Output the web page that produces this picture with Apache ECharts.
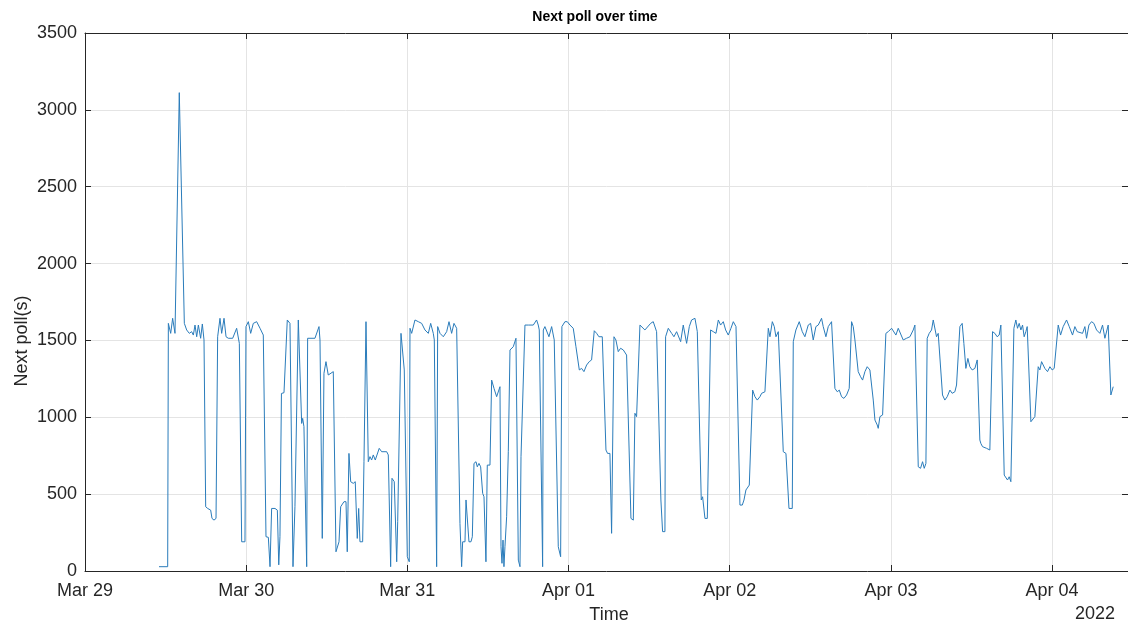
<!DOCTYPE html>
<html>
<head>
<meta charset="utf-8">
<title>Next poll over time</title>
<script src="https://cdn.jsdelivr.net/npm/echarts@6/dist/echarts.min.js"></script>
<style>
  html, body { margin: 0; padding: 0; background: #ffffff; }
  #chart { width: 1128px; height: 626px; }
</style>
</head>
<body>
<div id="chart"></div>
<script>
// Sample times, in hours counted from Mar 29 2022 00:00
const hours = [
  11.02, 12.31, 12.41, 12.76, 13.05, 13.40, 13.62, 14.04, 14.79, 15.14,
  15.53, 15.88, 16.13, 16.38, 16.63, 16.88, 17.22, 17.47, 17.72, 17.97,
  18.27, 18.51, 18.71, 18.91, 19.21, 19.51, 19.75, 20.10, 20.35, 20.70,
  21.00, 21.34, 21.99, 22.58, 22.98, 23.33, 23.82, 23.97, 24.32, 24.67,
  25.06, 25.56, 26.06, 26.55, 26.95, 27.30, 27.55, 27.79, 28.29, 28.64,
  28.85, 29.03, 29.25, 29.63, 30.12, 30.27, 30.52, 30.77, 30.97, 31.26,
  31.52, 31.76, 32.26, 32.41, 32.60, 33.01, 33.15, 34.24, 34.49, 34.84,
  34.99, 35.33, 35.58, 35.88, 36.22, 36.97, 37.37, 37.62, 37.82, 38.07,
  38.56, 38.86, 39.05, 39.30, 39.56, 39.94, 40.24, 40.54, 40.75, 40.94,
  41.34, 41.54, 41.84, 42.18, 42.43, 42.68, 42.92, 43.22, 43.81, 44.17,
  44.92, 45.16, 45.51, 45.71, 45.90, 46.05, 46.41, 46.56, 46.79, 47.05,
  47.54, 47.79, 47.99, 48.28, 48.39, 48.64, 49.13, 49.63, 50.13, 50.62,
  51.12, 51.47, 51.86, 52.01, 52.36, 52.51, 52.86, 53.35, 53.85, 54.20,
  54.59, 54.94, 55.34, 55.59, 55.83, 56.08, 56.23, 56.58, 56.73, 56.97,
  57.17, 57.47, 57.67, 57.92, 58.22, 58.41, 58.66, 58.91, 59.21, 59.41,
  59.70, 59.90, 60.30, 60.55, 60.90, 61.29, 61.54, 61.79, 61.94, 62.09,
  62.24, 62.38, 62.53, 62.78, 63.03, 63.28, 63.77, 64.17, 64.52, 64.77,
  64.92, 65.16, 65.51, 66.01, 66.25, 66.75, 67.24, 67.49, 67.64, 68.14,
  68.24, 68.48, 68.73, 69.08, 69.48, 69.87, 70.47, 70.82, 71.01, 71.46,
  71.81, 72.21, 72.70, 73.10, 73.60, 73.94, 74.29, 74.69, 75.08, 75.43,
  75.83, 76.18, 76.52, 77.02, 77.57, 77.81, 78.16, 78.41, 78.56, 78.76,
  79.05, 79.40, 79.75, 80.15, 80.64, 81.29, 81.64, 81.88, 82.13, 82.63,
  82.88, 83.37, 83.62, 84.22, 84.61, 85.11, 85.75, 86.00, 86.35, 86.45,
  86.85, 87.35, 87.69, 88.09, 88.69, 89.08, 89.58, 89.98, 90.32, 90.82,
  91.17, 91.76, 91.96, 92.31, 92.66, 92.95, 93.15, 93.55, 93.95, 94.30,
  94.64, 95.04, 95.39, 95.78, 96.18, 96.53, 96.93, 97.52, 97.87, 98.12,
  98.41, 98.66, 98.91, 99.41, 99.75, 100.10, 100.50, 100.75, 101.24, 101.74,
  101.99, 102.34, 102.63, 102.88, 103.23, 103.97, 104.37, 104.82, 105.06, 105.31,
  105.46, 105.85, 106.35, 106.80, 107.19, 107.69, 108.04, 108.43, 108.83, 109.18,
  109.67, 109.92, 110.32, 110.67, 111.16, 111.66, 112.01, 112.31, 112.65, 113.00,
  113.40, 113.79, 114.14, 114.39, 114.64, 115.13, 115.48, 115.78, 116.13, 116.47,
  116.87, 117.37, 117.62, 117.96, 118.11, 118.36, 118.76, 119.25, 119.60, 120.10,
  120.35, 120.74, 121.09, 121.83, 122.33, 122.83, 123.32, 123.57, 124.07, 124.41,
  124.71, 124.96, 125.21, 125.40, 125.70, 126.05, 126.30, 126.79, 127.04, 127.68,
  128.03, 128.38, 128.78, 129.12, 129.52, 129.77, 130.27, 130.61, 130.86, 131.16,
  131.46, 131.75, 132.10, 132.50, 132.85, 133.24, 133.39, 133.64, 133.89, 134.24,
  134.48, 134.73, 135.13, 135.48, 135.82, 136.12, 136.37, 136.87, 137.11, 137.36,
  137.61, 137.86, 138.31, 138.60, 138.85, 139.10, 139.35, 139.60, 139.84, 140.09,
  140.29, 140.84, 141.08, 141.43, 141.93, 142.18, 142.43, 142.67, 142.92, 143.32,
  143.67, 144.01, 144.31, 144.56, 144.91, 145.26, 145.65, 146.15, 146.55, 147.04,
  147.39, 147.74, 148.53, 148.88, 149.13, 149.48, 149.87, 150.22, 150.62, 151.11,
  151.51, 151.86, 152.35, 152.75, 153.10
];

// Next poll interval in seconds at each sample time
const nextPoll = [
  28, 28, 1611, 1546, 1644, 1546, 1540, 3112, 1611, 1568,
  1546, 1557, 1535, 1600, 1524, 1600, 1514, 1607, 1503, 418,
  407, 418, 396, 342, 331, 342, 1524, 1644, 1546, 1644,
  1524, 1514, 1514, 1579, 1481, 190, 190, 1590, 1622, 1546,
  1611, 1622, 1579, 1535, 223, 219, 28, 407, 407, 396,
  40, 223, 1155, 1160, 1633, 1633, 1611, 1600, 28, 418,
  418, 1633, 960, 993, 939, 28, 1514, 1514, 1503, 1590,
  1503, 212, 1286, 1362, 1275, 1297, 125, 125, 190, 418,
  451, 451, 125, 765, 581, 570, 581, 212, 407, 190,
  190, 711, 1622, 711, 744, 722, 755, 722, 798, 776,
  776, 755, 28, 603, 613, 581, 60, 321, 310, 1546,
  1308, 1318, 93, 60, 1579, 1546, 1633, 1622, 1611, 1568,
  1546, 1611, 1546, 1503, 28, 1590, 1546, 1524, 1557, 1622,
  1546, 1611, 1579, 1579, 310, 28, 190, 190, 462, 473,
  190, 190, 223, 700, 711, 678, 700, 678, 505, 483,
  60, 689, 689, 1242, 1188, 1134, 1145, 1199, 158, 50,
  201, 28, 158, 353, 776, 1438, 1459, 1514, 71, 28,
  744, 733, 1600, 1600, 1611, 1600, 1633, 1600, 1568, 28,
  1568, 1590, 1600, 1524, 1590, 1503, 158, 93, 1590, 1622,
  1622, 1600, 1579, 1459, 1308, 1318, 1297, 1340, 1362, 1373,
  1563, 1546, 1524, 1524, 787, 765, 765, 245, 245, 1524,
  1503, 1427, 1449, 1438, 1405, 342, 331, 1026, 1004, 1600,
  1611, 1568, 1557, 1611, 1622, 1557, 462, 256, 256, 1524,
  1579, 1546, 1524, 1557, 1492, 1600, 1481, 1590, 1633, 1644,
  1557, 462, 483, 342, 342, 331, 1568, 1557, 1546, 1633,
  1600, 1622, 1568, 1535, 1579, 1622, 1590, 429, 429, 462,
  527, 516, 559, 1177, 1134, 1112, 1134, 1156, 1166, 1579,
  1524, 1622, 1590, 1524, 1557, 776, 765, 407, 418, 407,
  1492, 1568, 1622, 1557, 1524, 1600, 1611, 1503, 1590, 1600,
  1644, 1590, 1524, 1590, 1622, 1188, 1166, 1177, 1134, 1123,
  1145, 1188, 1622, 1590, 1503, 1297, 1264, 1242, 1297, 1329,
  1308, 1112, 982, 950, 928, 1004, 1015, 1546, 1557, 1579,
  1590, 1535, 1579, 1503, 1514, 1524, 1568, 1600, 678, 668,
  711, 668, 700, 1514, 1546, 1568, 1633, 1524, 1546, 1145,
  1112, 1134, 1177, 1156, 1166, 1210, 1590, 1611, 1481, 1318,
  1383, 1329, 1308, 1318, 1373, 852, 830, 809, 820, 798,
  809, 787, 1557, 1546, 1524, 1535, 1600, 624, 613, 592,
  613, 581, 1579, 1633, 1579, 1611, 1568, 1600, 1524, 1557,
  1590, 971, 960, 1004, 1329, 1308, 1362, 1373, 1318, 1297,
  1329, 1308, 1318, 1329, 1600, 1535, 1590, 1633, 1590, 1535,
  1590, 1557, 1546, 1590, 1514, 1600, 1622, 1611, 1568, 1546,
  1600, 1514, 1600, 1145, 1199
];

// Day tick labels (one per 24 h)
const dayLabels = ['Mar 29', 'Mar 30', 'Mar 31', 'Apr 01', 'Apr 02', 'Apr 03', 'Apr 04'];
const yearLabel = '2022';

const TEXT = '#262626';
const FONT = 'Liberation Sans, Arial, Helvetica, sans-serif';
const X_MAX = 155.3;

const points = hours.map((h, i) => [h, nextPoll[i]]);

const chart = echarts.init(document.getElementById('chart'), null, { renderer: 'canvas' });

const dayFormatter = v => {
  const d = v / 24;
  return Math.abs(d - Math.round(d)) < 1e-6 && dayLabels[Math.round(d)] ? dayLabels[Math.round(d)] : '';
};

chart.setOption({
  animation: false,
  backgroundColor: '#ffffff',
  title: {
    text: 'Next poll over time',
    left: 590,
    top: 5,
    textAlign: 'center',
    textStyle: { fontFamily: FONT, fontSize: 14, fontWeight: 'bold', color: '#000000' }
  },
  grid: { left: 85, right: 0, top: 33, bottom: 55, containLabel: false },
  xAxis: [
    {
      type: 'value', min: 0, max: X_MAX, interval: 24, position: 'bottom',
      axisLine: { show: true, onZero: false, lineStyle: { color: TEXT, width: 1 } },
      axisTick: { show: true, inside: true, length: 6, lineStyle: { color: TEXT } },
      axisLabel: { formatter: dayFormatter, fontFamily: FONT, fontSize: 18, color: TEXT, margin: 11, showMaxLabel: false },
      splitLine: { show: true, lineStyle: { color: '#e4e4e4', width: 1 } }
    },
    {
      type: 'value', min: 0, max: X_MAX, interval: 24, position: 'top',
      axisLine: { show: true, onZero: false, lineStyle: { color: TEXT, width: 1 } },
      axisTick: { show: true, inside: true, length: 6, lineStyle: { color: TEXT } },
      axisLabel: { show: false },
      splitLine: { show: false }
    }
  ],
  yAxis: [
    {
      type: 'value', min: 0, max: 3500, interval: 500, position: 'left',
      axisLine: { show: true, onZero: false, lineStyle: { color: TEXT, width: 1 } },
      axisTick: { show: true, inside: true, length: 6, lineStyle: { color: TEXT } },
      axisLabel: { formatter: v => String(v), fontFamily: FONT, fontSize: 18, color: TEXT, margin: 8 },
      splitLine: { show: true, lineStyle: { color: '#e4e4e4', width: 1 } }
    },
    {
      type: 'value', min: 0, max: 3500, interval: 500, position: 'right',
      axisLine: { show: true, onZero: false, lineStyle: { color: TEXT, width: 1 } },
      axisTick: { show: true, inside: true, length: 6, lineStyle: { color: TEXT } },
      axisLabel: { show: false },
      splitLine: { show: false }
    }
  ],
  graphic: [
    {
      type: 'text', x: 22, y: 341, rotation: Math.PI / 2,
      style: { text: 'Next poll(s)', font: '18px ' + FONT, fill: TEXT, textAlign: 'center', textVerticalAlign: 'middle' }
    },
    {
      type: 'text', x: 609, y: 615,
      style: { text: 'Time', font: '18px ' + FONT, fill: TEXT, textAlign: 'center', textVerticalAlign: 'middle' }
    },
    {
      type: 'text', x: 1115, y: 614,
      style: { text: yearLabel, font: '18px ' + FONT, fill: TEXT, textAlign: 'right', textVerticalAlign: 'middle' }
    }
  ],
  series: [
    {
      type: 'line',
      xAxisIndex: 0,
      yAxisIndex: 0,
      data: points,
      showSymbol: false,
      symbol: 'none',
      lineStyle: { color: '#2a7cbb', width: 1 },
      z: 3
    }
  ]
});
</script>
</body>
</html>
